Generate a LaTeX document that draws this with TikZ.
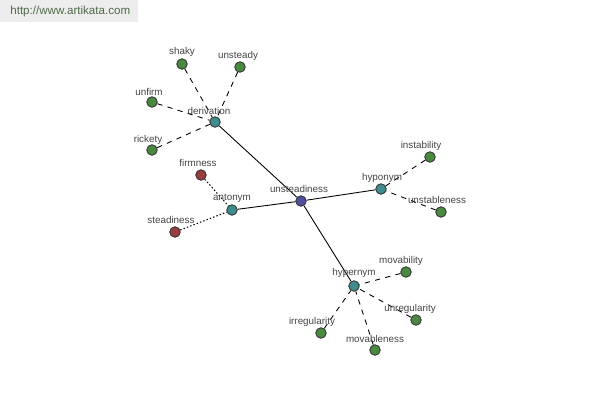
\documentclass[tikz,border=0pt]{standalone}
\usepackage{fontspec}
\setmainfont{Liberation Sans}
\definecolor{cblue}{HTML}{4F4FA0}
\definecolor{cteal}{HTML}{3E8C8E}
\definecolor{cgreen}{HTML}{4A8A3E}
\definecolor{cred}{HTML}{9A3C3C}
\definecolor{ctext}{HTML}{444444}
\definecolor{curl}{HTML}{4D6B45}
\begin{document}
\begin{tikzpicture}[x=0.02cm,y=-0.02cm,
  vtx/.style={circle,draw=black!80,line width=0.5pt,inner sep=0pt,minimum size=10.5*0.02cm},
  hub/.style={vtx,fill=cblue},
  mid/.style={vtx,fill=cteal},
  leaf/.style={vtx,fill=cgreen},
  anti/.style={vtx,fill=cred},
  lbl/.style={text=ctext,font=\fontsize{5.6}{6}\selectfont,inner sep=0pt},
  strong/.style={draw=black,line width=0.5pt},
  weak/.style={draw=black,line width=0.5pt,dash pattern=on 3pt off 3pt},
  dotl/.style={draw=black,line width=0.6pt,dash pattern=on 0.8pt off 1.2pt}]
\useasboundingbox (0,0) rectangle (600,400);
\fill[white] (0,0) rectangle (600,400);
\node[fill=black!7,minimum width=138*0.02cm,minimum height=22*0.02cm,inner sep=0pt,anchor=north west] (hdr) at (0,0) {};
\node[text=curl,font=\fontsize{6.6}{7}\selectfont,anchor=west,inner sep=0pt] (url) at (10,11) {http://www.artikata.com};
% vertices
\node[hub] (uns) at (301,201) {};
\node[mid] (der) at (215,122) {};
\node[mid] (ant) at (232,210) {};
\node[mid] (hypo) at (381,189) {};
\node[mid] (hyper) at (354,286) {};
\node[leaf] (shaky) at (182,64) {};
\node[leaf] (unsteady) at (240,67) {};
\node[leaf] (unfirm) at (152,102) {};
\node[leaf] (rickety) at (152,150) {};
\node[anti] (firm) at (201,175) {};
\node[anti] (stead) at (175,232) {};
\node[leaf] (instab) at (430,157) {};
\node[leaf] (unstab) at (441,212) {};
\node[leaf] (movab) at (406,272) {};
\node[leaf] (unreg) at (416,320) {};
\node[leaf] (irreg) at (321,333) {};
\node[leaf] (movable) at (375,350) {};
% edges
\draw[strong] (uns) -- (der);
\draw[strong] (uns) -- (ant);
\draw[strong] (uns) -- (hypo);
\draw[strong] (uns) -- (hyper);
\draw[weak] (shaky) -- (der);
\draw[weak] (unsteady) -- (der);
\draw[weak] (unfirm) -- (der);
\draw[weak] (rickety) -- (der);
\draw[dotl] (firm) -- (ant);
\draw[dotl] (stead) -- (ant);
\draw[weak] (instab) -- (hypo);
\draw[weak] (unstab) -- (hypo);
\draw[weak] (movab) -- (hyper);
\draw[weak] (unreg) -- (hyper);
\draw[weak] (irreg) -- (hyper);
\draw[weak] (movable) -- (hyper);
% labels
\node[lbl] (luns) at (299,189) {unsteadiness};
\node[lbl] (lder) at (209,111) {derivation};
\node[lbl] (lant) at (232,198) {antonym};
\node[lbl] (lhypo) at (382,178) {hyponym};
\node[lbl] (lhyper) at (354,273) {hypernym};
\node[lbl] (lshaky) at (182,52) {shaky};
\node[lbl] (lunsteady) at (238,56) {unsteady};
\node[lbl] (lunfirm) at (149,92) {unfirm};
\node[lbl] (lrickety) at (148,140) {rickety};
\node[lbl] (lfirm) at (198,163) {firmness};
\node[lbl] (lstead) at (171,220) {steadiness};
\node[lbl] (linstab) at (421,146) {instability};
\node[lbl] (lunstab) at (437,200) {unstableness};
\node[lbl] (lmovab) at (401,261) {movability};
\node[lbl] (lunreg) at (410,309) {unregularity};
\node[lbl] (lirreg) at (312,322) {irregularity};
\node[lbl] (lmovable) at (375,339) {movableness};
\end{tikzpicture}
\end{document}
